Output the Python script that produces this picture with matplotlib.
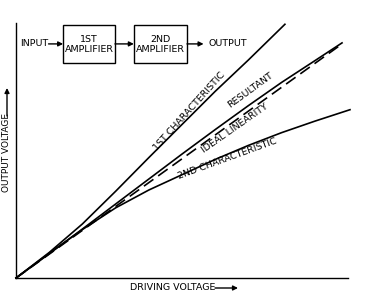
import matplotlib.pyplot as plt
from matplotlib.patches import Rectangle

plt.rcParams.update({"font.family": ["Liberation Sans Narrow", "DejaVu Sans"]})

# ---- curves (driving voltage -> output voltage, arbitrary units 0..10) ----
first_x = [0, 1, 2, 3, 4, 5, 6, 7, 8.1]
first_y = [0, 1.0, 2.12, 3.4, 4.72, 6.02, 7.32, 8.55, 9.95]

result_x = [0, 1, 2, 3, 4, 5, 6, 7, 8, 9, 9.82]
result_y = [0, 0.95, 1.92, 2.9, 3.88, 4.86, 5.82, 6.76, 7.67, 8.52, 9.22]

ideal_x = [0, 9.82]
ideal_y = [0, 9.18]

second_x = [0, 1, 2, 3, 4, 5, 6, 7, 8, 9, 10.06]
second_y = [0, 0.97, 1.9, 2.75, 3.45, 4.05, 4.65, 5.2, 5.7, 6.15, 6.6]

curve_labels = ["1ST CHARACTERISTIC", "RESULTANT", "IDEAL LINEARITY", "2ND CHARACTERISTIC"]


fig = plt.figure(figsize=(3.71, 3.0), dpi=100)
ax = fig.add_axes([16/371, 22/300, 332/371, 255/300])
ax.set_xlim(0, 10)
ax.set_ylim(0, 10)
ax.set_xticks([])
ax.set_yticks([])
ax.spines["top"].set_visible(False)
ax.spines["right"].set_visible(False)
ax.spines["left"].set_linewidth(1.0)
ax.spines["bottom"].set_linewidth(1.0)

ax.plot(first_x, first_y, color="black", lw=1.2, clip_on=False)
ax.plot(result_x, result_y, color="black", lw=1.2, clip_on=False)
ax.plot(ideal_x, ideal_y, color="black", lw=1.2, dashes=(7, 3.5), clip_on=False)
ax.plot(second_x, second_y, color="black", lw=1.2, clip_on=False)

# curve labels
lab_pos = [(5.21, 6.55, 48), (7.05, 7.37, 36), (6.60, 5.88, 35), (6.36, 4.67, 20)]
for txt, (lx, ly, ang) in zip(curve_labels, lab_pos):
    ax.text(lx, ly, txt, rotation=ang, rotation_mode="anchor", ha="center",
            va="center", fontsize=6.8)

# ---- block diagram ----
arr = dict(arrowstyle="-|>", color="black", lw=1.0, mutation_scale=7, shrinkA=0, shrinkB=0)
ax.text(0.54, 9.18, "INPUT", ha="center", va="center", fontsize=6.8)
ax.annotate("", xy=(1.42, 9.18), xytext=(0.98, 9.18), arrowprops=arr)
ax.add_patch(Rectangle((1.42, 8.43), 1.56, 1.49, fill=False, lw=1.0, ec="black", clip_on=False))
ax.text(2.2, 9.17, "1ST\nAMPLIFIER", ha="center", va="center", fontsize=6.8, linespacing=1.15)
ax.annotate("", xy=(3.55, 9.18), xytext=(2.98, 9.18), arrowprops=arr)
ax.add_patch(Rectangle((3.55, 8.43), 1.6, 1.49, fill=False, lw=1.0, ec="black", clip_on=False))
ax.text(4.35, 9.17, "2ND\nAMPLIFIER", ha="center", va="center", fontsize=6.8, linespacing=1.15)
ax.annotate("", xy=(5.65, 9.18), xytext=(5.15, 9.18), arrowprops=arr)
ax.text(5.81, 9.18, "OUTPUT", ha="left", va="center", fontsize=6.8)

# ---- axis labels with arrows ----
fig.text(7/371, 1 - 152/300, "OUTPUT VOLTAGE", rotation=90, ha="center", va="center", fontsize=6.5)
ax.annotate("", xy=(7, 300 - 88), xytext=(7, 300 - 116), xycoords="figure pixels",
            textcoords="figure pixels", arrowprops=arr, annotation_clip=False)
fig.text(173/371, 1 - 288/300, "DRIVING VOLTAGE", ha="center", va="center", fontsize=6.8)
ax.annotate("", xy=(238, 12), xytext=(215, 12), xycoords="figure pixels",
            textcoords="figure pixels", arrowprops=arr, annotation_clip=False)

plt.savefig("out.png", dpi=100)
